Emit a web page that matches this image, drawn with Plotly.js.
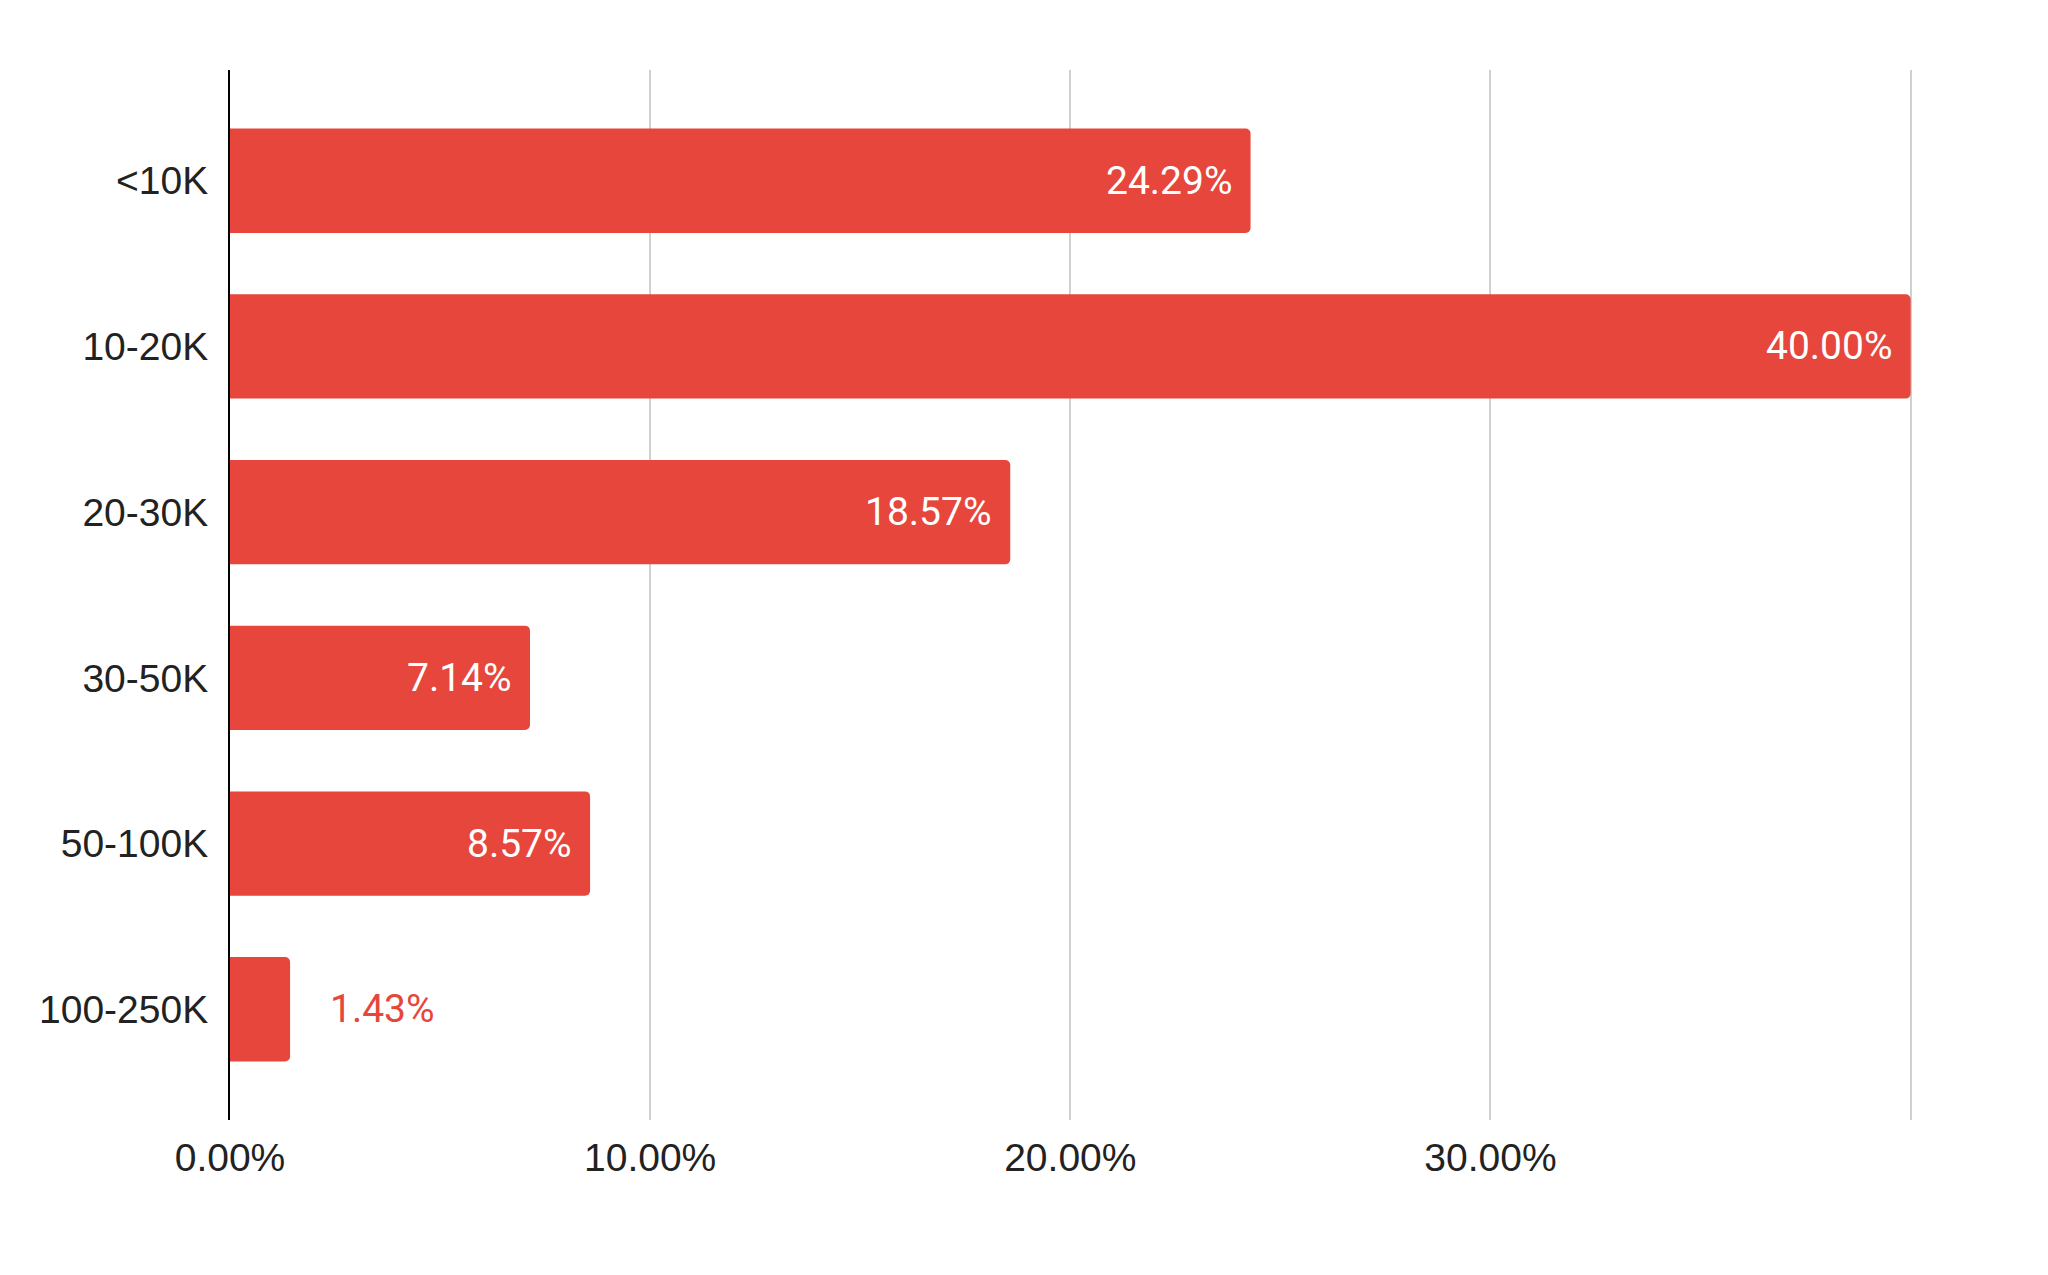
<!DOCTYPE html>
<html>
<head>
<meta charset="utf-8">
<script src="https://cdn.plot.ly/plotly-3.0.1.min.js"></script>
<style>html,body{margin:0;padding:0;background:#fff;}#chart{width:2048px;height:1275px;}</style>
</head>
<body>
<div id="chart"></div>
<script>
const categories = ["<10K", "10-20K", "20-30K", "30-50K", "50-100K", "100-250K"];
const shares = [0.2429, 0.4000, 0.1857, 0.0714, 0.0857, 0.0143];
const labels = ["24.29%", "40.00%", "18.57%", "7.14%", "8.57%", "1.43%"];
const tickVals = [0, 0.1, 0.2, 0.3, 0.4];
const tickText = ["0.00%", "10.00%", "20.00%", "30.00%", ""];

const barColor = "#e6463b";

const annotations = shares.map((v, i) => {
  const inside = v > 0.03;
  return {
    x: v, y: categories[i], xref: "x", yref: "y",
    text: labels[i], showarrow: false,
    xanchor: inside ? "right" : "left",
    yanchor: "middle",
    xshift: inside ? -16 : 38,
    font: {family: "Roboto, sans-serif", size: 39, color: inside ? "#ffffff" : barColor}
  };
});

const trace = {
  type: "bar", orientation: "h",
  x: shares, y: categories,
  marker: {color: barColor, cornerradius: 5},
  hoverinfo: "skip"
};

const layout = {
  width: 2048, height: 1275,
  margin: {l: 230, r: 134, t: 70, b: 155, pad: 0},
  paper_bgcolor: "#fff", plot_bgcolor: "#fff",
  showlegend: false,
  bargap: 0.37,
  xaxis: {
    range: [0, 0.4008],
    tickvals: tickVals, ticktext: tickText,
    showgrid: true, gridcolor: "#d0d0d0", gridwidth: 2,
    zeroline: false, showline: false, ticks: "",
    ticklabelstandoff: 11,
    tickfont: {family: "Liberation Sans, Arial, sans-serif", size: 39, color: "#222"}
  },
  yaxis: {
    type: "category",
    range: [5.668, -0.668],
    showgrid: false, zeroline: false,
    showline: true, linecolor: "#000", linewidth: 2,
    ticks: "",
    ticklabelstandoff: 12,
    tickfont: {family: "Liberation Sans, Arial, sans-serif", size: 39, color: "#222"}
  },
  annotations: annotations
};

Plotly.newPlot("chart", [trace], layout, {displayModeBar: false, staticPlot: true});
</script>
</body>
</html>
